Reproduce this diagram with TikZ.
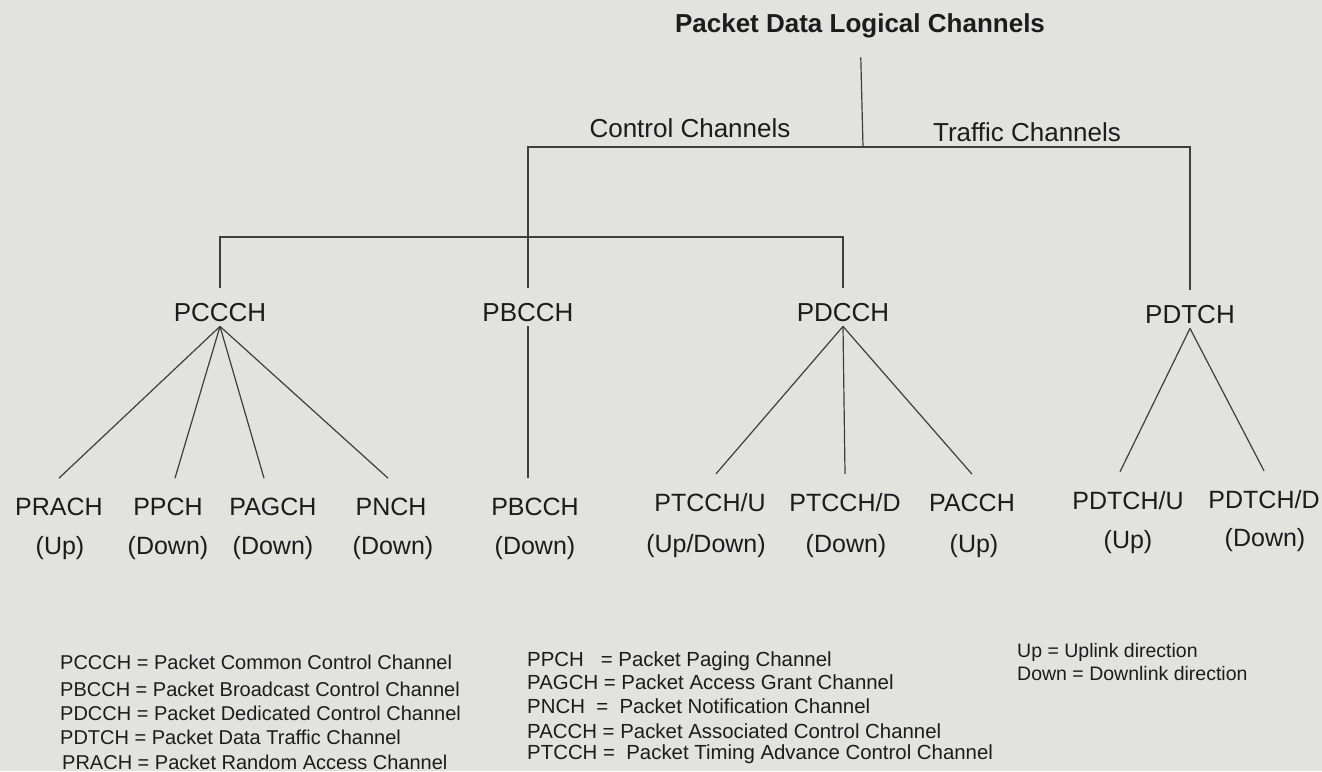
\documentclass[tikz,border=0pt]{standalone}
\usepackage{fontspec}
\setmainfont{Liberation Sans}
\definecolor{paper}{RGB}{226,226,223}
\definecolor{ink}{RGB}{28,28,28}
\tikzset{
  chan/.style={font=\fontsize{26}{31}\selectfont, text=ink, inner sep=4pt},
  leaf/.style={font=\fontsize{25}{30}\selectfont, text=ink, inner sep=4pt, outer ysep=16pt},
  dir/.style={font=\fontsize{25}{30}\selectfont, text=ink, inner sep=4pt},
  legend/.style={font=\fontsize{20}{23}\selectfont, text=ink, anchor=base west, inner sep=0pt},
  link/.style={draw=ink!85, line width=1.2pt},
}
\begin{document}
\begin{tikzpicture}[x=1pt,y=-1pt]
	\fill[paper] (0,0) rectangle (1322,771);
	\useasboundingbox (0,0) rectangle (1322,771);
	% top of the tree
	\node[chan] (pdlc) at (860,26) {\bfseries Packet Data Logical Channels};
	\coordinate (split) at (863,147);
	\coordinate (ctl) at (528,237);
	\node[chan] (ctrl) at (690,128) {Control Channels};
	\node[chan] (traf) at (1027,132) {Traffic Channels};
	\draw[link, shorten <=15pt] (pdlc) -- (split);
	% second level
	\node[chan] (pccch) at (220,313) {PCCCH};
	\node[chan] (pbcch) at (528,313) {PBCCH};
	\node[chan] (pdcch) at (843,313) {PDCCH};
	\node[chan] (pdtch) at (1190,315) {PDTCH};
	\draw[link, shorten <=12pt, shorten >=12pt] (pbcch) |- (split) -| (pdtch);
	\draw[link, shorten <=12pt, shorten >=12pt] (pccch) |- (ctl) -| (pdcch);
	% PCCCH leaves
	\node[leaf] (prach) at (59,507) {PRACH};
	\node[dir] (prach-d) at (60,548) {(Up)};
	\node[leaf] (ppch) at (168,507) {PPCH};
	\node[dir] (ppch-d) at (168,548) {(Down)};
	\node[leaf] (pagch) at (273,507) {PAGCH};
	\node[dir] (pagch-d) at (273,548) {(Down)};
	\node[leaf] (pnch) at (391,507) {PNCH};
	\node[dir] (pnch-d) at (393,548) {(Down)};
	\draw[link] (pccch.south) -- (prach.north);
	\draw[link] (pccch.south) -- ([xshift=7pt]ppch.north);
	\draw[link] (pccch.south) -- ([xshift=-9pt]pagch.north);
	\draw[link] (pccch.south) -- ([xshift=-3pt]pnch.north);
	% PBCCH leaf
	\node[leaf] (pbcchl) at (535,507) {PBCCH};
	\node[dir] (pbcchl-d) at (535,548) {(Down)};
	\draw[link] (pbcch.south) -- ([xshift=-7pt]pbcchl.north);
	% PDCCH leaves
	\node[leaf] (ptcchu) at (710,503) {PTCCH/U};
	\node[dir] (ptcchu-d) at (706,546) {(Up/Down)};
	\node[leaf] (ptcchd) at (845,503) {PTCCH/D};
	\node[dir] (ptcchd-d) at (846,546) {(Down)};
	\node[leaf] (pacch) at (972,503) {PACCH};
	\node[dir] (pacch-d) at (974,546) {(Up)};
	\draw[link] (pdcch.south) -- ([xshift=6pt]ptcchu.north);
	\draw[link] (pdcch.south) -- (ptcchd.north);
	\draw[link] (pdcch.south) -- (pacch.north);
	% PDTCH leaves
	\node[leaf] (pdtchu) at (1128,501) {PDTCH/U};
	\node[dir] (pdtchu-d) at (1128,542) {(Up)};
	\node[leaf] (pdtchd) at (1264,500) {PDTCH/D};
	\node[dir] (pdtchd-d) at (1265,540) {(Down)};
	\draw[link] (pdtch.south) -- ([xshift=-8pt]pdtchu.north);
	\draw[link] (pdtch.south) -- (pdtchd.north);
	% legend
	\node[legend] (key1) at (60,669) {PCCCH = Packet Common Control Channel};
	\node[legend] (key2) at (60,696) {PBCCH = Packet Broadcast Control Channel};
	\node[legend] (key3) at (60,720) {PDCCH = Packet Dedicated Control Channel};
	\node[legend] (key4) at (60,744) {PDTCH = Packet Data Traffic Channel};
	\node[legend] (key5) at (62,769) {PRACH = Packet Random Access Channel};
	\node[legend, font=\fontsize{20.4}{23}\selectfont] (key6) at (527,666) {PPCH\ \ \ = Packet Paging Channel};
	\node[legend, font=\fontsize{20.4}{23}\selectfont] (key7) at (527,689) {PAGCH = Packet Access Grant Channel};
	\node[legend, font=\fontsize{20.4}{23}\selectfont] (key8) at (527,713) {PNCH\ \ =\ \ Packet Notification Channel};
	\node[legend, font=\fontsize{20.4}{23}\selectfont] (key9) at (527,738) {PACCH = Packet Associated Control Channel};
	\node[legend, font=\fontsize{20.4}{23}\selectfont] (key10) at (527,759) {PTCCH =\ \ Packet Timing Advance Control Channel};
	\node[legend, font=\fontsize{19.5}{23}\selectfont] (key11) at (1017,657) {Up = Uplink direction};
	\node[legend, font=\fontsize{19.5}{23}\selectfont] (key12) at (1017,680) {Down = Downlink direction};
\end{tikzpicture}
\end{document}
